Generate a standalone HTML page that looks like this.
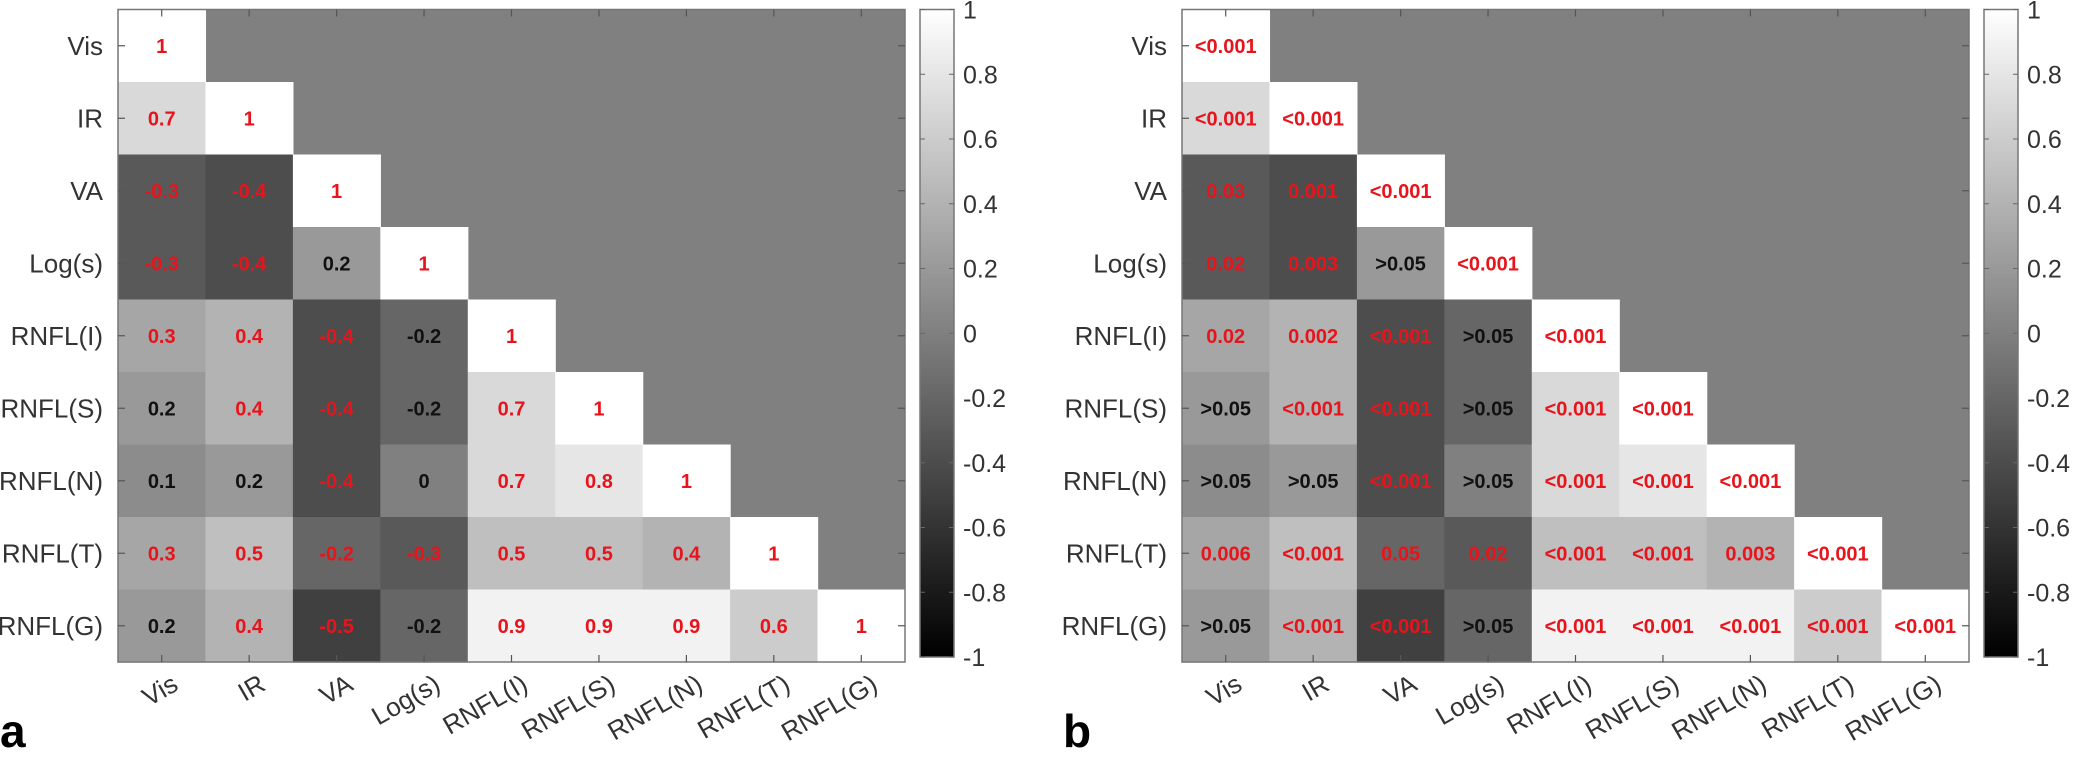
<!DOCTYPE html>
<html><head><meta charset="utf-8"><style>
html,body{margin:0;padding:0;background:#fff;}
svg{display:block;font-family:"Liberation Sans",Arial,sans-serif;}
</style></head><body>
<svg id="chart" width="2074" height="763" viewBox="0 0 2074 763" xmlns="http://www.w3.org/2000/svg">
<text x="0" y="747" font-size="46" font-weight="bold" fill="#000">a</text>
<text x="1063" y="747" font-size="46" font-weight="bold" fill="#000">b</text>
</svg>
<script>
const categories = ["Vis","IR","VA","Log(s)","RNFL(I)","RNFL(S)","RNFL(N)","RNFL(T)","RNFL(G)"];
const corrValues = [
 [1],
 [0.7,1],
 [-0.3,-0.4,1],
 [-0.3,-0.4,0.2,1],
 [0.3,0.4,-0.4,-0.2,1],
 [0.2,0.4,-0.4,-0.2,0.7,1],
 [0.1,0.2,-0.4,0,0.7,0.8,1],
 [0.3,0.5,-0.2,-0.3,0.5,0.5,0.4,1],
 [0.2,0.4,-0.5,-0.2,0.9,0.9,0.9,0.6,1]
];
const corrSignificant = [
 [1],[1,1],[1,1,1],[1,1,0,1],[1,1,1,0,1],[0,1,1,0,1,1],[0,0,1,0,1,1,1],[1,1,1,1,1,1,1,1],[0,1,1,0,1,1,1,1,1]
];
const pLabels = [
 ["<0.001"],
 ["<0.001","<0.001"],
 ["0.03","0.001","<0.001"],
 ["0.02","0.003",">0.05","<0.001"],
 ["0.02","0.002","<0.001",">0.05","<0.001"],
 [">0.05","<0.001","<0.001",">0.05","<0.001","<0.001"],
 [">0.05",">0.05","<0.001",">0.05","<0.001","<0.001","<0.001"],
 ["0.006","<0.001","0.05","0.02","<0.001","<0.001","0.003","<0.001"],
 [">0.05","<0.001","<0.001",">0.05","<0.001","<0.001","<0.001","<0.001","<0.001"]
];
const colorbarTicks = [1,0.8,0.6,0.4,0.2,0,-0.2,-0.4,-0.6,-0.8,-1];

const NS="http://www.w3.org/2000/svg";
const svg=document.getElementById('chart');
function mk(tag,attrs,parent){const e=document.createElementNS(NS,tag);for(const k in attrs)e.setAttribute(k,attrs[k]);(parent||svg).appendChild(e);return e;}
function gray(v){const g=Math.round((v+1)/2*255);return `rgb(${g},${g},${g})`;}

function panel(ox, labelsFn, id){
  const left=ox, top=9.5, W=787, H=652.5, n=categories.length;
  const cw=W/n, ch=H/n;
  const xs=i=>left+i*cw, ys=j=>top+j*ch;
  const g=mk('g',{});
  
  
  const bg=mk('rect',{x:left,y:top,width:W,height:H,fill:gray(0)},g);
  
  
  for(let r=0;r<n;r++){
    for(let c=0;c<=r;c++){
      const v=corrValues[r][c];
      const cell=mk('rect',{x:xs(c),y:ys(r),width:cw+0.6,height:ch+0.6,fill:gray(v)},g);
      
      
      const t=mk('text',{x:xs(c)+cw/2,y:ys(r)+ch/2+7,'text-anchor':'middle','font-size':20,'font-weight':'bold',fill:corrSignificant[r][c]?'#e8141c':'#111'},g);
      t.textContent=labelsFn(r,c);
      
      
    }
  }
  const fr=mk('rect',{x:left,y:top,width:W,height:H,fill:'none',stroke:'#777','stroke-width':1.5},g);
  
  
  for(let i=0;i<n;i++){
    const cx=xs(i)+cw/2, cy=ys(i)+ch/2;
    mk('line',{x1:cx,y1:top+H,x2:cx,y2:top+H-7,stroke:'#555','stroke-width':1.2},g);
    mk('line',{x1:cx,y1:top,x2:cx,y2:top+7,stroke:'#555','stroke-width':1.2},g);
    mk('line',{x1:left,y1:cy,x2:left+7,y2:cy,stroke:'#555','stroke-width':1.2},g);
    mk('line',{x1:left+W,y1:cy,x2:left+W-7,y2:cy,stroke:'#555','stroke-width':1.2},g);
    const yl=mk('text',{x:left-15,y:cy+9,'text-anchor':'end','font-size':26,fill:'#333'},g);
    yl.textContent=categories[i];
    
    
    const xl=mk('text',{x:0,y:0,'text-anchor':'end','font-size':26,fill:'#333',transform:`translate(${cx+18},${top+H+27}) rotate(-30)`},g);
    xl.textContent=categories[i];
    
    
  }
  // colorbar
  const cbx=left+W+15, cbw=34, cbt=top, cbb=657;
  const defs=mk('defs',{},g);
  const lg=mk('linearGradient',{id:'grad'+id,x1:0,y1:1,x2:0,y2:0},defs);
  mk('stop',{offset:0,'stop-color':'#000'},lg);
  mk('stop',{offset:1,'stop-color':'#fff'},lg);
  const cb=mk('rect',{x:cbx,y:cbt,width:cbw,height:cbb-cbt,fill:`url(#grad${id})`,stroke:'#777','stroke-width':1.5},g);
  
  
  const cy=v=>cbb-(v+1)/2*(cbb-cbt);
  colorbarTicks.forEach(v=>{
    mk('line',{x1:cbx,y1:cy(v),x2:cbx+5,y2:cy(v),stroke:'#666'},g);
    mk('line',{x1:cbx+cbw,y1:cy(v),x2:cbx+cbw-5,y2:cy(v),stroke:'#666'},g);
    const t=mk('text',{x:cbx+cbw+9,y:cy(v)+9,'font-size':25,fill:'#333'},g);
    t.textContent=String(v);
    
    
  });
}
panel(118,(r,c)=>String(corrValues[r][c]),'a');
panel(1182,(r,c)=>pLabels[r][c],'b');
</script>
</body></html>
